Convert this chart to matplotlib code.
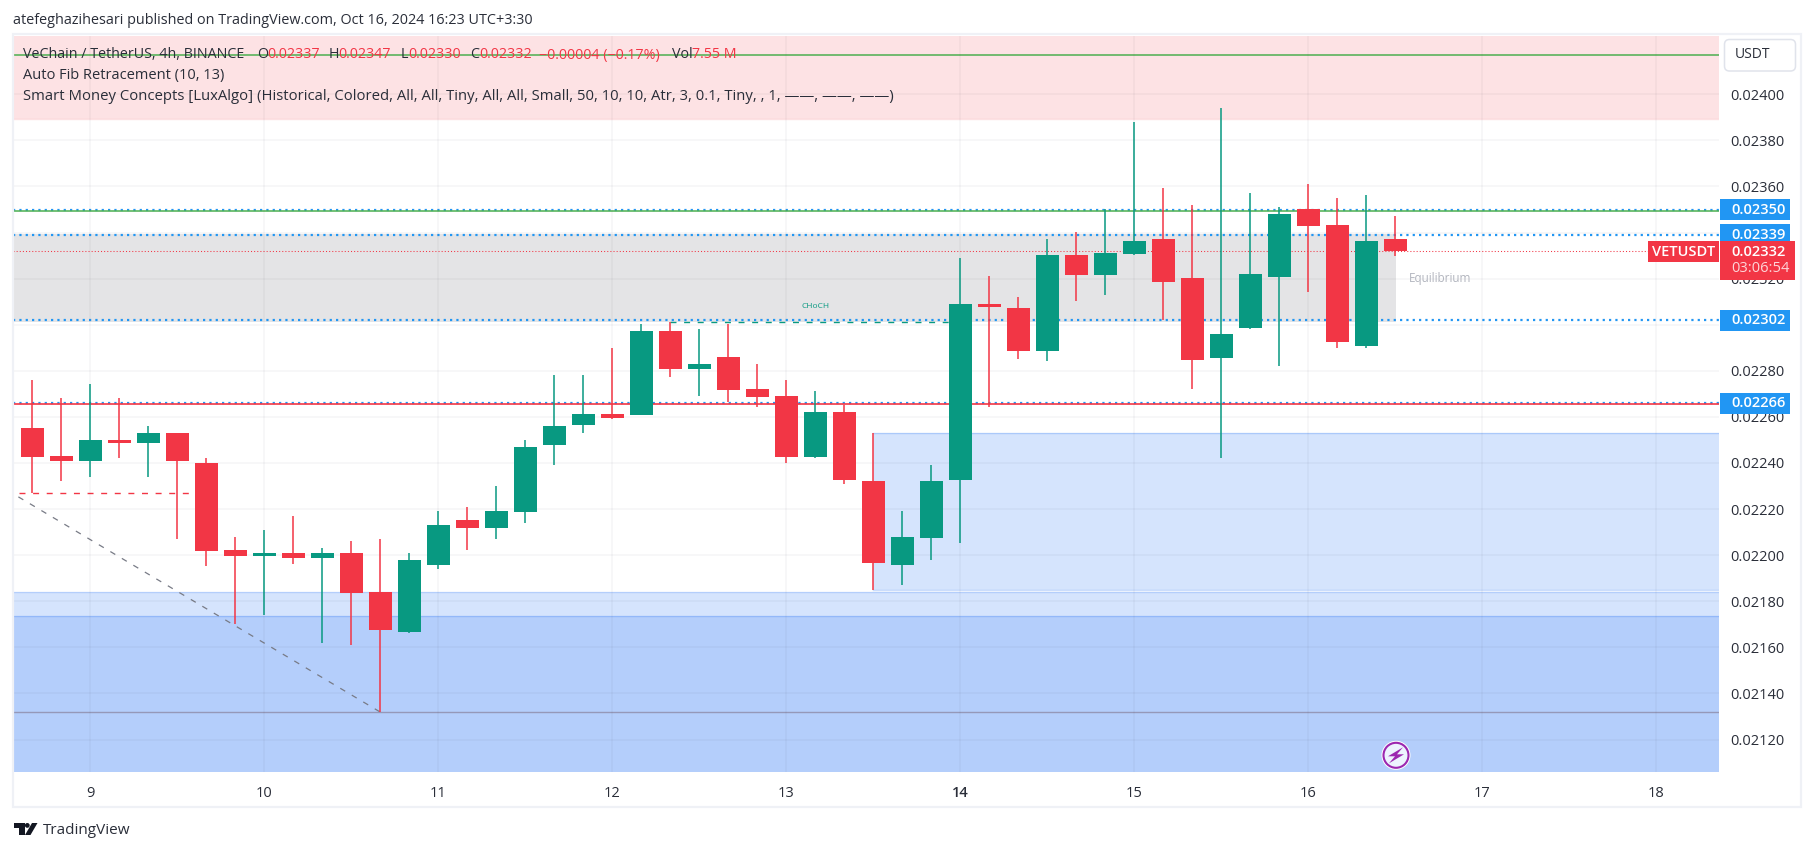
import matplotlib
matplotlib.use('Agg')
import matplotlib.pyplot as plt
from matplotlib.patches import Rectangle, FancyBboxPatch, Circle, Polygon
from matplotlib.transforms import blended_transform_factory, IdentityTransform

plt.rcParams['font.family'] = ['Open Sans', 'DejaVu Sans']

GREEN = '#089981'
RED = '#F23645'
BLUE = '#2196F3'
ZONE = '#3179F5'
TXT = '#2A2E39'

# candles, 4h, prices x 1e-5
opens = [2255.2, 2243.0, 2240.8, 2249.9, 2248.6, 2253.0, 2240.0, 2202.2, 2199.6, 2200.9, 2198.7, 2200.9,
         2183.9, 2166.6, 2195.7, 2215.2, 2211.7, 2218.7, 2247.8, 2256.4, 2261.2, 2260.8, 2297.3, 2280.8,
         2286.0, 2272.1, 2269.0, 2242.6, 2262.1, 2232.1, 2195.7, 2207.4, 2232.6, 2309.0, 2307.2, 2288.6,
         2330.2, 2321.6, 2330.7, 2337.2, 2320.3, 2285.5, 2298.6, 2320.7, 2350.2, 2343.3, 2290.7, 2337.0]
highs = [2276.0, 2268.2, 2274.2, 2268.2, 2256.0, 2253.0, 2242.1, 2207.8, 2210.9, 2216.9, 2203.0, 2206.1,
         2207.0, 2200.9, 2219.1, 2220.8, 2229.9, 2249.9, 2278.2, 2278.2, 2289.9, 2300.3, 2301.2, 2298.1,
         2300.3, 2282.9, 2276.0, 2271.2, 2265.1, 2253.0, 2219.1, 2239.1, 2329.0, 2321.1, 2312.0, 2337.2,
         2340.2, 2350.2, 2388.0, 2359.3, 2352.0, 2394.1, 2357.2, 2351.1, 2361.1, 2355.0, 2356.3, 2347.0]
lows = [2226.8, 2232.1, 2233.9, 2242.1, 2233.9, 2207.0, 2195.2, 2170.0, 2173.9, 2196.1, 2161.8, 2160.9,
        2131.9, 2166.3, 2193.9, 2202.2, 2207.0, 2213.9, 2239.1, 2253.1, 2259.1, 2260.8, 2277.3, 2269.0,
        2266.4, 2264.3, 2240.0, 2242.1, 2230.8, 2184.8, 2187.0, 2197.8, 2205.2, 2264.3, 2285.1, 2284.2,
        2310.3, 2312.9, 2330.2, 2302.0, 2272.1, 2242.1, 2298.1, 2282.1, 2314.2, 2289.9, 2289.9, 2330.0]
closes = [2242.5, 2240.8, 2249.9, 2248.6, 2253.0, 2240.8, 2201.7, 2199.6, 2200.9, 2198.7, 2200.9, 2183.5,
          2167.5, 2197.8, 2213.0, 2211.7, 2219.1, 2246.9, 2256.0, 2261.2, 2259.5, 2297.3, 2280.8, 2282.9,
          2271.6, 2268.6, 2242.6, 2262.1, 2232.6, 2196.6, 2207.8, 2232.1, 2309.0, 2307.7, 2288.6, 2330.2,
          2321.6, 2331.1, 2336.3, 2318.5, 2284.7, 2296.0, 2322.0, 2348.0, 2342.8, 2292.5, 2336.3, 2332.0]

y_ticks = [2120, 2140, 2160, 2180, 2200, 2220, 2240, 2260, 2280, 2300, 2320, 2340, 2360, 2380, 2400]
days = [9, 10, 11, 12, 13, 14, 15, 16, 17, 18]
price_tags = [2350, 2339, 2302, 2266]

W, H = 1814, 851
XMIN, XMAX = 8.5558, 18.360
fig = plt.figure(figsize=(W / 100, H / 100), dpi=100, facecolor='white')
ax = fig.add_axes([13 / W, 1 - 772 / H, 1706 / W, 736 / H])
ax.set_xlim(XMIN, XMAX)
ax.set_ylim(2105.9, 2425.3)
for s in ax.spines.values():
    s.set_visible(False)

ax.set_xticks(days)
ax.set_yticks(y_ticks)
ax.set_yticklabels([f'{v / 100000:.5f}' for v in y_ticks])
ax.yaxis.tick_right()
ax.tick_params(length=0, labelsize=10.5, labelcolor=TXT)
ax.tick_params(axis='y', pad=8)
ax.tick_params(axis='x', pad=10)
for lab, d in zip(ax.get_xticklabels(), days):
    if d == 14:
        lab.set_fontweight('semibold')
# grid sits over the zones and shows through them, candles stay on top
ax.set_axisbelow(False)
ax.grid(True, color='#2A2E39', alpha=0.045, lw=1.2)


def xpos(i):
    return 9 + (i - 2) / 6


def px(x, y):
    # figure pixel from the top left, for the bits outside the chart
    return x / W, 1 - y / H


# zones
ax.axhspan(2389.4, 2426, color=RED, alpha=0.14, lw=0, zorder=1)
ax.axhline(2389.4, color=RED, alpha=0.15, lw=1, zorder=1)
ax.add_patch(Rectangle((XMIN, 2301.3), xpos(47.03) - XMIN, 2339.4 - 2301.3, fc='#787B86', alpha=0.2,
                       ec='none', zorder=1))
ax.axhspan(2105, 2183.8, color=ZONE, alpha=0.2, lw=0, zorder=1)
ax.axhspan(2105, 2173.8, color=ZONE, alpha=0.2, lw=0, zorder=1)
ax.axhline(2183.8, color=ZONE, alpha=0.2, lw=1, zorder=1)
ax.axhline(2173.8, color=ZONE, alpha=0.25, lw=1, zorder=1)
ax.add_patch(Rectangle((xpos(29), 2184.8), XMAX - xpos(29), 2253 - 2184.8, fc=ZONE, alpha=0.2,
                       ec='none', zorder=1))
ax.plot([xpos(29), XMAX], [2253, 2253], color=ZONE, alpha=0.25, lw=1, zorder=1)
ax.plot([xpos(29), XMAX], [2184.8, 2184.8], color=ZONE, alpha=0.25, lw=1, zorder=1)

# levels
for p in price_tags:
    ax.axhline(p, color=BLUE, lw=1.6, ls=(0, (1, 1.85)), zorder=1.8)
ax.axhline(2416.9, color='#4CAF50', lw=1.1, zorder=2)
ax.axhline(2349.4, color='#4CAF50', lw=1.1, zorder=2)
ax.axhline(2265.5, color=RED, lw=1.2, zorder=2)
ax.axhline(2131.8, color='#9598B8', lw=1.0, zorder=2)
ax.plot([XMIN, XMAX - 71 / 174], [2332, 2332], color=RED, lw=0.75, ls=(0, (1, 2)), zorder=2)

# market structure
ax.plot([xpos(-0.48), xpos(12)], [2225.3, 2131.9], color='#787B86', lw=0.9, ls=(0, (4.6, 6.1)), zorder=2)
ax.plot([xpos(-0.45), xpos(5.48)], [2226.8, 2226.8], color=RED, lw=1.0, ls=(0, (4.3, 5.5)), zorder=2)
ax.plot([xpos(22), xpos(32)], [2301, 2301], color=GREEN, lw=1.0, ls=(0, (4.3, 5.5)), zorder=2)
ax.text(xpos(27), 2307.7, 'CHoCH', color=GREEN, fontsize=6, ha='center', va='center', zorder=3)
ax.text(xpos(47.47), 2319.9, 'Equilibrium', color='#B2B5BE', fontsize=8.5, va='center', zorder=3)

# candles
for i in range(len(opens)):
    col = GREEN if closes[i] >= opens[i] else RED
    x = xpos(i)
    ax.plot([x, x], [lows[i], highs[i]], color=col, lw=1.1, solid_capstyle='butt', zorder=4)
    ax.add_patch(Rectangle((x - 11.5 / 174, min(opens[i], closes[i])), 23 / 174, abs(closes[i] - opens[i]),
                           fc=col, ec='none', zorder=5))

# right scale tags
tr = blended_transform_factory(ax.transAxes, ax.transData)
tag_x = 1 + 1 / 1706
tag_w = 70 / 1706
tag_h = 21 / 2.3036
for p in sorted(price_tags, reverse=True):
    ax.add_patch(Rectangle((tag_x, p - tag_h / 2), tag_w, tag_h, transform=tr, fc=BLUE, ec='none',
                           clip_on=False, zorder=6))
    ax.text(tag_x + 11 / 1706, p, f'{p / 100000:.5f}', transform=tr, color='white', fontsize=10.5,
            fontweight='semibold', va='center', clip_on=False, zorder=7)
ax.add_patch(Rectangle((tag_x, 2319.4), 75 / 1706, 2336.3 - 2319.4, transform=tr, fc=RED, ec='none',
                       clip_on=False, zorder=6))
ax.text(tag_x + 11 / 1706, 2331.5, '0.02332', transform=tr, color='white', fontsize=10.5, fontweight='semibold',
        va='center', clip_on=False, zorder=7)
ax.text(tag_x + 11 / 1706, 2324.2, '03:06:54', transform=tr, color='#fdd5d8', fontsize=10.5,
        va='center', clip_on=False, zorder=7)
ax.add_patch(Rectangle((1 - 71 / 1706, 2336.3 - tag_h), 71 / 1706, tag_h, transform=tr, fc=RED, ec='none',
                       clip_on=False, zorder=6))
ax.text(1 - 35.5 / 1706, 2331.5, 'VETUSDT', transform=tr, color='white', fontsize=10.5, fontweight='semibold',
        ha='center', va='center', clip_on=False, zorder=7)

# header and legend
fig.text(*px(13, 21), 'atefeghazihesari published on TradingView.com, Oct 16, 2024 16:23 UTC+3:30',
         color=TXT, fontsize=10.4, va='center')
fig.text(*px(23, 55), 'VeChain / TetherUS, 4h, BINANCE', color=TXT, fontsize=10.3, va='center')
ohlc_parts = [(257, 'O', TXT), (267, '0.02337', RED), (329, 'H', TXT), (338, '0.02347', RED), (401, 'L', TXT),
              (408, '0.02330', RED), (470, 'C', TXT), (479, '0.02332', RED),
              (539, '\u22120.00004 (\u22120.17%)', RED), (672, 'Vol', TXT), (692, '7.55 M', RED)]
for x0, s, c in ohlc_parts:
    fig.text(*px(x0, 55), s, color=c, fontsize=10.3, va='center')
fig.text(*px(23, 76), 'Auto Fib Retracement (10, 13)', color=TXT, fontsize=10.5, va='center')
fig.text(*px(23, 97), 'Smart Money Concepts [LuxAlgo] (Historical, Colored, All, All, Tiny, All, All, Small, '
         '50, 10, 10, Atr, 3, 0.1, Tiny, , 1, \u2014\u2014, \u2014\u2014, \u2014\u2014)',
         color=TXT, fontsize=10.7, va='center')

# USDT button, pixel coords from the bottom
fig.add_artist(FancyBboxPatch((1724.5, H - 71), 71, 31.5, boxstyle='round,pad=0,rounding_size=5', fc='white',
                              ec='#e0e3eb', lw=1.1, transform=IdentityTransform()))
fig.text(*px(1735, 55), 'USDT', color=TXT, fontsize=10, va='center')

# frame
fig.add_artist(Rectangle((12.5, H - 807), 1788, 773, fc='none', ec='#eff1f6', lw=1.6,
                         transform=IdentityTransform()))

# lightning badge
bx, by = 1396, H - 755.3
id_tr = IdentityTransform()
fig.add_artist(Circle((bx, by), 14.5, fc='white', ec='none', transform=id_tr))
fig.add_artist(Circle((bx, by), 12.5, fc='#EDF3FE', ec='#9C27B0', lw=1.5, transform=id_tr))
fig.add_artist(Polygon([(bx + 7, by + 8), (bx - 8, by - 1), (bx - 1, by - 1), (bx - 7, by - 8),
                        (bx + 8, by + 1), (bx + 1, by + 1)], closed=True, fc='#9C27B0', ec='none', transform=id_tr))

# footer logo
ly = H - 823
fig.add_artist(Polygon([(13.5, ly), (24.5, ly), (24.5, ly - 12), (19, ly - 12), (19, ly - 5), (13.5, ly - 5)],
                       closed=True, fc='#131722', ec='none', transform=id_tr))
fig.add_artist(Circle((27.3, ly - 2.4), 2.4, fc='#131722', ec='none', transform=id_tr))
fig.add_artist(Polygon([(32, ly), (37.5, ly), (30.5, ly - 12), (25, ly - 12)],
                       closed=True, fc='#131722', ec='none', transform=id_tr))
fig.text(*px(43, 830), 'TradingView', color=TXT, fontsize=11, va='center')

fig.savefig('out.png', dpi=100)
